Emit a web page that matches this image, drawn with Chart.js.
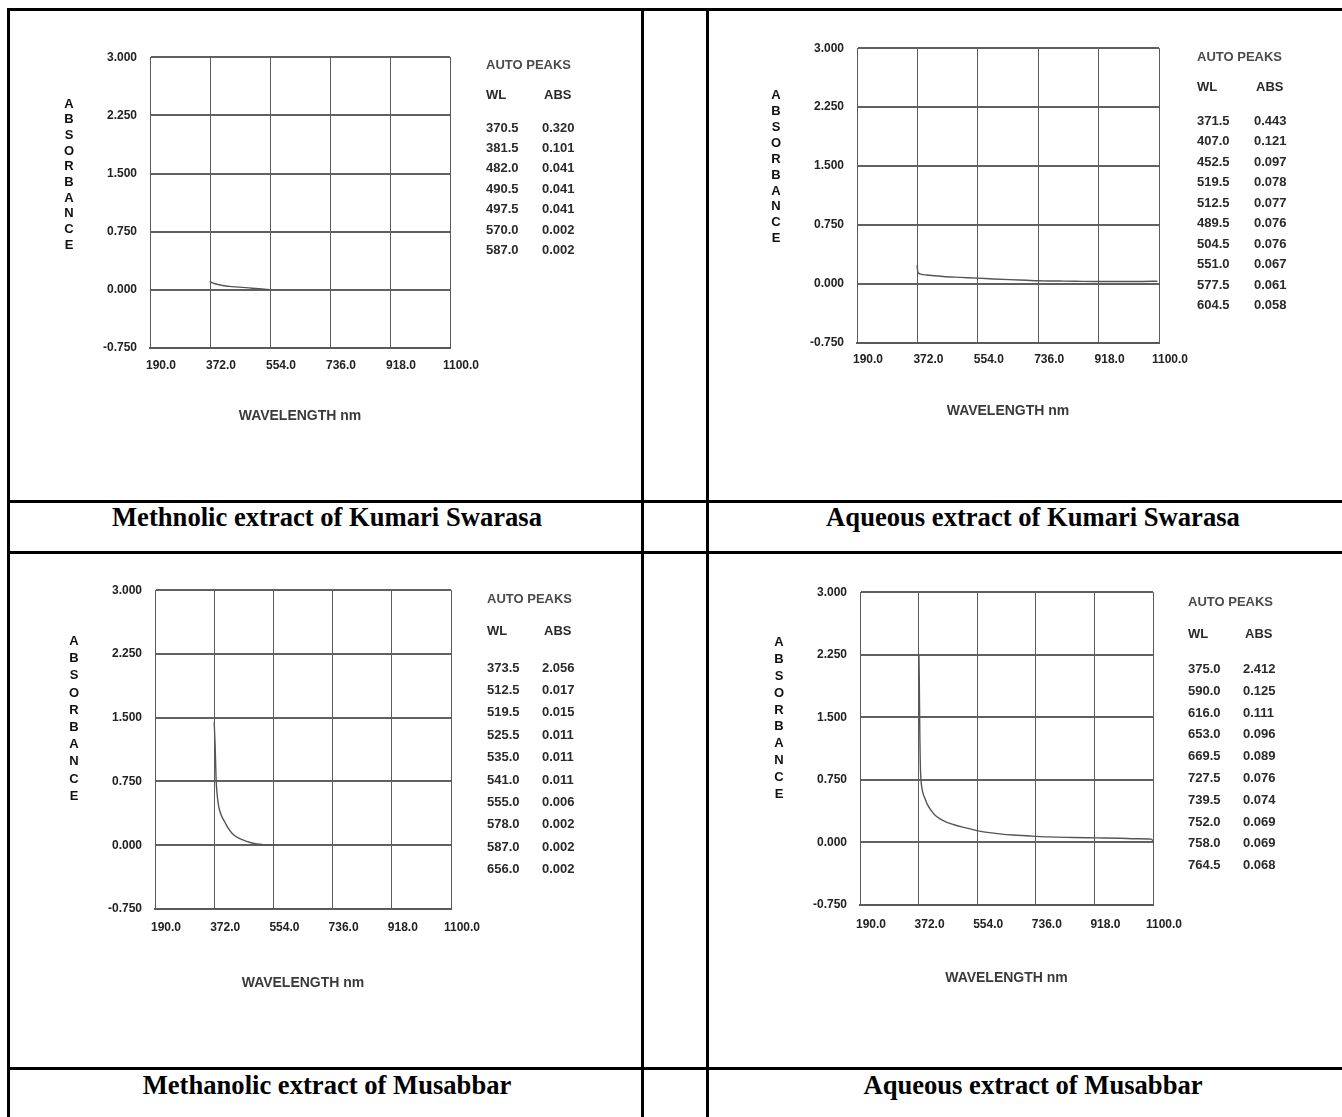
<!DOCTYPE html>
<html>
<head>
<meta charset="utf-8">
<title>UV-Vis spectra</title>
<script src="https://cdn.jsdelivr.net/npm/chart.js@4.4.1/dist/chart.umd.min.js"></script>
<style>
  html, body { margin: 0; padding: 0; background: #fff; }
  #page { position: relative; width: 1342px; height: 1117px; overflow: hidden; background: #fff; }
  .rule { position: absolute; background: #000; }
  .caption {
    position: absolute; width: 600px; text-align: center; white-space: nowrap;
    font-family: "Liberation Serif", "Times New Roman", serif; font-weight: bold;
    font-size: 28px; line-height: 28px; color: #000;
    transform: scaleX(0.95); transform-origin: center;
  }
  canvas.spec { position: absolute; }
  .peak {
    position: absolute; white-space: nowrap;
    font-family: "Liberation Sans", Arial, sans-serif; font-weight: bold;
    font-size: 13px; line-height: 14px; color: #2a2a2a;
  }
  .peak.head { color: #4a4a4a; }
</style>
</head>
<body>
<div id="page"></div>
<script>
// axes printed by the spectrophotometer
const xTicks = [190, 372, 554, 736, 918, 1100];
const yTicks = [-0.75, 0, 0.75, 1.5, 2.25, 3];

const captions = [
  "Methnolic extract of Kumari Swarasa",
  "Aqueous extract of Kumari Swarasa",
  "Methanolic extract of Musabbar",
  "Aqueous extract of Musabbar",
];

// traces (wavelength nm / absorbance)
const metKumariWL = [371, 375, 380, 390, 400, 415, 430, 450, 470, 490, 510, 530, 550];
const metKumariAbs = [0.11, 0.10, 0.09, 0.075, 0.065, 0.052, 0.045, 0.038, 0.032, 0.025, 0.017, 0.01, 0.004];

const aqKumariWL = [371, 372, 373, 375, 380, 390, 400, 425, 450, 500, 554, 600, 650, 700, 736, 800, 850, 918, 1000, 1050, 1095];
const aqKumariAbs = [0.24, 0.2, 0.16, 0.14, 0.13, 0.12, 0.115, 0.105, 0.095, 0.085, 0.075, 0.065, 0.056, 0.048, 0.042, 0.038, 0.035, 0.032, 0.032, 0.033, 0.036];

const metMusabbarWL = [372, 373.5, 375, 376.5, 378, 381, 384, 388, 395, 405, 415, 426, 440, 462, 480, 503, 525, 545, 560];
const metMusabbarAbs = [1.45, 1.3, 1.15, 0.95, 0.76, 0.6, 0.5, 0.42, 0.34, 0.27, 0.2, 0.145, 0.1, 0.06, 0.035, 0.015, 0.006, 0.002, 0.0];

const aqMusabbarWL = [373, 374, 375, 376, 377, 378, 380, 385, 393, 400, 408, 425, 450, 480, 512, 550, 585, 630, 678, 720, 772, 850, 928, 1000, 1050, 1094, 1100];
const aqMusabbarAbs = [2.25, 2.0, 1.6, 1.25, 1.0, 0.85, 0.72, 0.6, 0.515, 0.45, 0.4, 0.32, 0.26, 0.215, 0.18, 0.145, 0.12, 0.1, 0.087, 0.077, 0.067, 0.06, 0.055, 0.05, 0.045, 0.04, 0.02];

// auto peak tables
const metKumariPeakWL = [370.5, 381.5, 482.0, 490.5, 497.5, 570.0, 587.0];
const metKumariPeakAbs = [0.320, 0.101, 0.041, 0.041, 0.041, 0.002, 0.002];
const aqKumariPeakWL = [371.5, 407.0, 452.5, 519.5, 512.5, 489.5, 504.5, 551.0, 577.5, 604.5];
const aqKumariPeakAbs = [0.443, 0.121, 0.097, 0.078, 0.077, 0.076, 0.076, 0.067, 0.061, 0.058];
const metMusabbarPeakWL = [373.5, 512.5, 519.5, 525.5, 535.0, 541.0, 555.0, 578.0, 587.0, 656.0];
const metMusabbarPeakAbs = [2.056, 0.017, 0.015, 0.011, 0.011, 0.011, 0.006, 0.002, 0.002, 0.002];
const aqMusabbarPeakWL = [375.0, 590.0, 616.0, 653.0, 669.5, 727.5, 739.5, 752.0, 758.0, 764.5];
const aqMusabbarPeakAbs = [2.412, 0.125, 0.111, 0.096, 0.089, 0.076, 0.074, 0.069, 0.069, 0.068];

// page layout
const page = document.getElementById("page");

const rules = [
  [7, 8, 1335, 3], [7, 8, 3, 1109],
  [641, 8, 3, 1109], [706, 8, 3, 1109],
  [7, 500, 1335, 3], [7, 551, 1335, 3], [7, 1067, 1335, 3],
];
rules.forEach(([x, y, w, h]) => {
  const d = document.createElement("div");
  d.className = "rule";
  d.style.cssText = `left:${x}px;top:${y}px;width:${w}px;height:${h}px`;
  page.appendChild(d);
});

const panels = [
  { wl: metKumariWL, abs: metKumariAbs, peakWL: metKumariPeakWL, peakAbs: metKumariPeakAbs,
    plot: { l: 150, r: 450, t: 57, b: 348 }, titleY: 417, tickPad: 10,
    table: { x1: 486, x2: 542, headY: 65, subY: 95, row0: 127.5, step: 20.4 },
    cap: { cx: 327, top: 503 } },
  { wl: aqKumariWL, abs: aqKumariAbs, peakWL: aqKumariPeakWL, peakAbs: aqKumariPeakAbs,
    plot: { l: 857, r: 1159, t: 48, b: 343 }, titleY: 412, tickPad: 9,
    table: { x1: 1197, x2: 1254, headY: 57, subY: 87, row0: 120.7, step: 20.5 },
    cap: { cx: 1033, top: 503 } },
  { wl: metMusabbarWL, abs: metMusabbarAbs, peakWL: metMusabbarPeakWL, peakAbs: metMusabbarPeakAbs,
    plot: { l: 155, r: 451, t: 590, b: 909 }, titleY: 984, tickPad: 11,
    table: { x1: 487, x2: 542, headY: 599, subY: 631, row0: 667.6, step: 22.4 },
    cap: { cx: 327, top: 1071 } },
  { wl: aqMusabbarWL, abs: aqMusabbarAbs, peakWL: aqMusabbarPeakWL, peakAbs: aqMusabbarPeakAbs,
    plot: { l: 860, r: 1153, t: 592, b: 905 }, titleY: 979, tickPad: 12,
    table: { x1: 1188, x2: 1243, headY: 602, subY: 633.5, row0: 669, step: 21.8 },
    cap: { cx: 1033, top: 1071 } },
];

const addText = (txt, x, y, cls) => {
  const s = document.createElement("div");
  s.className = cls;
  s.textContent = txt;
  s.style.left = x + "px";
  s.style.top = (y - 7) + "px";
  page.appendChild(s);
};

// vertical stacked "ABSORBANCE"
const stackedTitle = {
  id: "stackedTitle",
  afterDraw(chart, args, opts) {
    const { ctx, chartArea } = chart;
    const h = chartArea.bottom - chartArea.top;
    const letters = opts.text.split("");
    const y0 = chartArea.top + 0.161 * h;
    const step = (0.485 * h) / (letters.length - 1);
    ctx.save();
    ctx.font = 'bold 13px "Liberation Sans", Arial, sans-serif';
    ctx.fillStyle = "#111";
    ctx.textAlign = "center";
    ctx.textBaseline = "middle";
    letters.forEach((ch, i) => ctx.fillText(ch, chartArea.left - 81, y0 + i * step));
    ctx.restore();
  },
};

const tickFont = { family: '"Liberation Sans", Arial, sans-serif', size: 12, weight: "bold" };

panels.forEach((p, i) => {
  const cv = document.createElement("canvas");
  cv.className = "spec";
  const left = p.plot.l - 100;
  const top = p.plot.t - 20;
  const w = p.plot.r - p.plot.l + 140;
  const h = p.titleY + 8 - top;
  cv.width = w;
  cv.height = h;
  cv.style.cssText = `left:${left}px;top:${top}px;width:${w}px;height:${h}px`;
  page.appendChild(cv);
  const xAxisH = p.titleY + 8 - p.plot.b;

  new Chart(cv, {
    type: "line",
    data: {
      datasets: [{
        data: p.wl.map((x, k) => ({ x: x, y: p.abs[k] })),
        borderColor: "#555",
        borderWidth: 1.4,
        pointRadius: 0,
        cubicInterpolationMode: "monotone",
        fill: false,
      }],
    },
    options: {
      responsive: false,
      animation: false,
      devicePixelRatio: 1,
      layout: { padding: { top: 20, right: 40, left: 0, bottom: 0 } },
      plugins: {
        legend: { display: false },
        tooltip: { enabled: false },
        stackedTitle: { text: "ABSORBANCE" },
      },
      scales: {
        x: {
          type: "linear",
          min: 190,
          max: 1100,
          afterBuildTicks: (s) => { s.ticks = xTicks.map((v) => ({ value: v })); },
          afterFit: (s) => { s.height = xAxisH; },
          ticks: {
            callback: (v) => Number(v).toFixed(1),
            font: tickFont,
            color: "#222",
            padding: p.tickPad,
            labelOffset: 11,
            maxRotation: 0,
            autoSkip: false,
          },
          grid: { color: "#5a5a5a", lineWidth: 1, drawTicks: false },
          border: { color: "#5a5a5a", width: 2 },
          title: {
            display: true,
            text: "WAVELENGTH nm",
            font: { family: '"Liberation Sans", Arial, sans-serif', size: 14, weight: "bold" },
            color: "#3a3a3a",
            padding: { top: 0, bottom: 0 },
          },
        },
        y: {
          type: "linear",
          min: -0.75,
          max: 3,
          afterBuildTicks: (s) => { s.ticks = yTicks.map((v) => ({ value: v })); },
          afterFit: (s) => { s.width = 100; },
          ticks: {
            callback: (v) => Number(v).toFixed(3),
            font: tickFont,
            color: "#222",
            padding: 13,
            autoSkip: false,
          },
          grid: { color: "#606060", lineWidth: 2, drawTicks: false },
          border: { color: "#5a5a5a", width: 1 },
        },
      },
    },
    plugins: [stackedTitle],
  });

  // peak table
  const t = p.table;
  addText("AUTO PEAKS", t.x1, t.headY, "peak head");
  addText("WL", t.x1, t.subY, "peak");
  addText("ABS", t.x2 + 2, t.subY, "peak");
  p.peakWL.forEach((wl, k) => {
    const y = t.row0 + k * t.step;
    addText(wl.toFixed(1), t.x1, y, "peak");
    addText(p.peakAbs[k].toFixed(3), t.x2, y, "peak");
  });

  // caption
  const c = document.createElement("div");
  c.className = "caption";
  c.textContent = captions[i];
  c.style.left = (p.cap.cx - 300) + "px";
  c.style.top = p.cap.top + "px";
  page.appendChild(c);
});
</script>
</body>
</html>
